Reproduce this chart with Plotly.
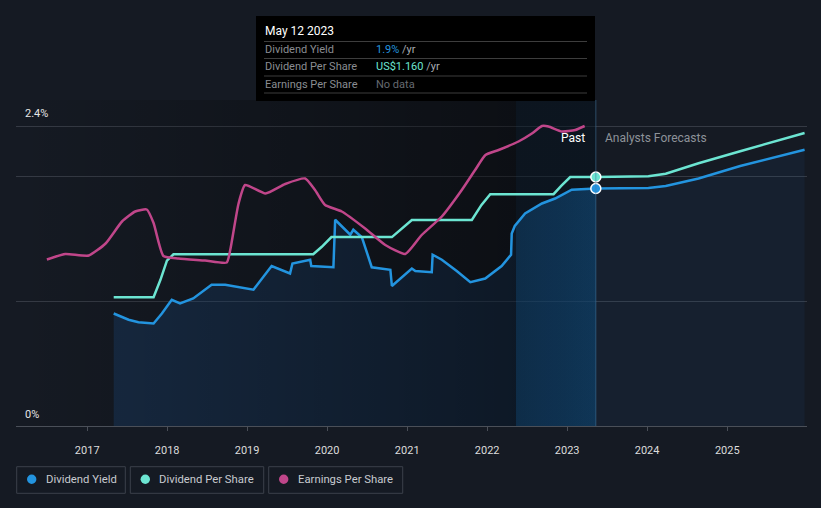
import plotly.graph_objects as go
import pandas as pd

# ---------------- data ----------------
yield_dates = ['2017-05-02', '2017-07-09', '2017-08-23', '2017-10-31', '2017-12-08', '2018-01-22',
               '2018-03-01', '2018-04-30', '2018-07-23', '2018-09-23', '2019-01-30', '2019-04-23',
               '2019-07-16', '2019-07-27', '2019-10-16', '2019-10-21', '2020-01-30', '2020-02-07',
               '2020-04-16', '2020-04-30', '2020-06-08', '2020-07-23', '2020-10-16', '2020-10-23',
               '2021-01-22', '2021-02-07', '2021-04-23', '2021-04-27', '2021-06-08', '2021-08-15',
               '2021-10-16', '2021-12-23', '2022-03-08', '2022-04-20', '2022-04-23', '2022-05-07',
               '2022-06-23', '2022-09-08', '2022-11-07', '2023-01-22', '2023-05-12']
yield_vals = [0.90, 0.85, 0.83, 0.82, 0.90, 1.01,
              0.98, 1.02, 1.13, 1.13, 1.09, 1.28,
              1.22, 1.30, 1.33, 1.28, 1.27, 1.65,
              1.53, 1.57, 1.51, 1.27, 1.25, 1.12,
              1.26, 1.24, 1.23, 1.37, 1.33, 1.24,
              1.15, 1.18, 1.28, 1.37, 1.54, 1.60,
              1.70, 1.78, 1.82, 1.89, 1.90]
yield_fc_dates = ['2023-05-12', '2023-10-01', '2024-01-07', '2024-03-26', '2024-08-23', '2025-03-01', '2025-12-20']
yield_fc_vals = [1.90, 1.90, 1.905, 1.92, 1.98, 2.08, 2.21]

dps_dates = ['2017-05-02', '2017-10-31', '2017-12-01', '2017-12-31', '2018-01-30', '2019-10-30',
             '2019-12-08', '2020-01-21', '2020-10-23', '2020-12-05', '2021-01-22', '2021-10-23',
             '2021-12-06', '2022-01-15', '2022-10-31', '2022-12-06', '2023-01-15', '2023-05-12']
dps_vals = [0.60, 0.60, 0.68, 0.77, 0.80, 0.80,
            0.835, 0.88, 0.88, 0.92, 0.96, 0.96,
            1.03, 1.08, 1.08, 1.12, 1.16, 1.16]
dps_fc_dates = ['2023-10-01', '2024-01-07', '2024-03-26', '2024-08-23', '2025-03-01', '2025-12-20']
dps_fc_vals = [1.16, 1.163, 1.175, 1.224, 1.28, 1.365]

eps_dates = ['2016-07-01', '2016-09-23', '2017-01-08', '2017-03-26', '2017-06-09', '2017-08-08',
             '2017-09-30', '2017-10-31', '2017-12-15', '2018-02-22', '2018-06-23', '2018-09-30',
             '2018-10-16', '2018-11-23', '2018-12-23', '2019-03-26', '2019-06-24', '2019-09-23',
             '2019-11-07', '2019-12-23', '2020-03-08', '2020-06-23', '2020-09-23', '2020-12-23',
             '2021-03-08', '2021-06-08', '2021-09-07', '2021-11-07', '2021-12-24', '2022-02-22',
             '2022-05-24', '2022-07-24', '2022-09-08', '2022-10-08', '2022-12-08', '2023-02-07',
             '2023-03-22']
eps_vals = [3.33, 3.44, 3.41, 3.65, 4.09, 4.29,
            4.33, 4.06, 3.40, 3.35, 3.31, 3.27,
            3.52, 4.45, 4.82, 4.65, 4.84, 4.95,
            4.72, 4.42, 4.29, 3.95, 3.62, 3.44,
            3.82, 4.19, 4.72, 5.12, 5.42, 5.52,
            5.69, 5.85, 6.00, 5.99, 5.89, 5.92,
            6.00]

tick_years = ['2017', '2018', '2019', '2020', '2021', '2022', '2023', '2024', '2025']
now_date = '2023-05-12'
past_year_start = '2022-05-12'
x_range = ['2016-02-11', '2025-12-31']

# ---------------- style ----------------
BG = '#151a23'
BLUE = '#2394df'
TEAL = '#6ce5d2'
PINK = '#c0468a'
FONT = 'Roboto'

W, H = 821, 508
ML, MR, MT, MB = 16, 14, 100, 82
PW = W - ML - MR
PH = H - MT - MB

def px(x):
    return (x - ML) / PW

def py(y):
    return (H - MB - y) / PH

def frac(a, b, c):
    a, b, c = pd.Timestamp(a), pd.Timestamp(b), pd.Timestamp(c)
    return (b - a) / (c - a)

Y_TOP = 2.608          # yield axis top (%)
DPS_TOP = 1.5187       # DPS axis top (US$)
EPS_TOP = 6.52         # EPS axis top

fig = go.Figure()

# yield fill (past)
fig.add_trace(go.Scatter(x=yield_dates, y=yield_vals, mode='lines', line=dict(width=0),
                         fill='tozeroy', fillcolor='rgba(33,110,190,0.20)', hoverinfo='skip',
                         showlegend=False))
# darkening gradient over past region (constant through the last year)
f_dark = frac(x_range[0], past_year_start, now_date)
fig.add_trace(go.Scatter(x=[x_range[0], now_date], y=[Y_TOP, Y_TOP], mode='lines',
                         line=dict(width=0), fill='tozeroy',
                         fillgradient=dict(type='horizontal',
                                           colorscale=[[0, 'rgba(0,0,0,0)'], [f_dark, 'rgba(0,0,0,0.42)'],
                                                       [1, 'rgba(0,0,0,0.42)']]),
                         hoverinfo='skip', showlegend=False))
# brighter fill under yield within the last year
f_hl = frac(yield_dates[0], past_year_start, now_date)
fig.add_trace(go.Scatter(x=yield_dates, y=yield_vals, mode='lines', line=dict(width=0),
                         fill='tozeroy',
                         fillgradient=dict(type='horizontal',
                                           colorscale=[[0, 'rgba(20,120,200,0)'], [f_hl, 'rgba(20,120,200,0)'],
                                                       [min(f_hl + 0.0005, 1), 'rgba(20,120,200,0.16)'],
                                                       [1, 'rgba(25,130,210,0.24)']]),
                         hoverinfo='skip', showlegend=False))
# faint tint over the whole last-year band
fig.add_trace(go.Scatter(x=[past_year_start, now_date], y=[Y_TOP, Y_TOP], mode='lines',
                         line=dict(width=0), fill='tozeroy', fillcolor='rgba(20,110,190,0.07)',
                         hoverinfo='skip', showlegend=False))
# forecast fill
fig.add_trace(go.Scatter(x=yield_fc_dates, y=yield_fc_vals, mode='lines', line=dict(width=0),
                         fill='tozeroy', fillcolor='rgba(33,110,190,0.08)', hoverinfo='skip',
                         showlegend=False))
# yield line
fig.add_trace(go.Scatter(x=yield_dates + yield_fc_dates[1:], y=yield_vals + yield_fc_vals[1:],
                         mode='lines', line=dict(color=BLUE, width=2.5), name='Dividend Yield',
                         showlegend=False))
fig.add_trace(go.Scatter(x=[now_date], y=[yield_vals[-1]], mode='markers',
                         marker=dict(size=10, color=BLUE, line=dict(color='white', width=1.5)),
                         showlegend=False, hoverinfo='skip'))
# DPS
fig.add_trace(go.Scatter(x=dps_dates + dps_fc_dates, y=dps_vals + dps_fc_vals, yaxis='y2',
                         mode='lines', line=dict(color=TEAL, width=2.5), name='Dividend Per Share',
                         showlegend=False))
fig.add_trace(go.Scatter(x=[now_date], y=[dps_vals[-1]], yaxis='y2', mode='markers',
                         marker=dict(size=10, color=TEAL, line=dict(color='white', width=1.5)),
                         showlegend=False, hoverinfo='skip'))
# EPS
fig.add_trace(go.Scatter(x=eps_dates, y=eps_vals, yaxis='y3', mode='lines',
                         line=dict(color=PINK, width=2.5, shape='spline', smoothing=0.5),
                         name='Earnings Per Share', showlegend=False))

shapes = []
annotations = []

# divider line at "now"
shapes.append(dict(type='line', xref='x', yref='paper', x0=now_date, x1=now_date, y0=0, y1=1,
                   line=dict(color='rgba(70,120,160,0.55)', width=1)))

# tooltip box
shapes.append(dict(type='rect', xref='paper', yref='paper', x0=px(256), x1=px(595), y0=py(101), y1=py(16),
                   fillcolor='#000000', line=dict(width=0)))
for yy in [41.5, 58.5, 76, 93]:
    shapes.append(dict(type='line', xref='paper', yref='paper', x0=px(264), x1=px(587), y0=py(yy), y1=py(yy),
                       line=dict(color='#3d3d3d', width=1)))
annotations.append(dict(xref='paper', yref='paper', x=px(263), y=py(31), text='May 12 2023', showarrow=False,
                        xanchor='left', yanchor='middle', font=dict(color='#ffffff', size=12, family=FONT)))
rows = [('Dividend Yield', "<span style='color:%s'>1.9%%</span> /yr" % BLUE, 49.5),
        ('Dividend Per Share', "<span style='color:%s'>US$1.160</span> /yr" % TEAL, 67),
        ('Earnings Per Share', "<span style='color:#666a70'>No data</span>", 84.5)]
for label, val, yy in rows:
    annotations.append(dict(xref='paper', yref='paper', x=px(263), y=py(yy), text=label, showarrow=False,
                            xanchor='left', yanchor='middle', font=dict(color='#8a8d92', size=11, family=FONT)))
    annotations.append(dict(xref='paper', yref='paper', x=px(374), y=py(yy), text=val, showarrow=False,
                            xanchor='left', yanchor='middle', font=dict(color='#a8abb0', size=11, family=FONT)))

# y labels
annotations.append(dict(xref='paper', yref='paper', x=px(23), y=py(114), text='2.4%', showarrow=False,
                        xanchor='left', yanchor='middle', font=dict(color='#e6e6e6', size=11, family=FONT)))
annotations.append(dict(xref='paper', yref='paper', x=px(23), y=py(414), text='0%', showarrow=False,
                        xanchor='left', yanchor='middle', font=dict(color='#e6e6e6', size=11, family=FONT)))

# Past / forecast labels
annotations.append(dict(xref='paper', yref='paper', x=px(587), y=py(138), text='Past', showarrow=False,
                        xanchor='right', yanchor='middle', font=dict(color='#ffffff', size=12, family=FONT)))
annotations.append(dict(xref='paper', yref='paper', x=px(603), y=py(138), text='Analysts Forecasts',
                        showarrow=False, xanchor='left', yanchor='middle',
                        font=dict(color='#8d9299', size=12, family=FONT)))

# custom legend
legend_items = [('Dividend Yield', BLUE, 16.7, 125.3),
                ('Dividend Per Share', TEAL, 130.3, 263.7),
                ('Earnings Per Share', PINK, 268.7, 402.7)]
for name, col, x0, x1 in legend_items:
    shapes.append(dict(type='rect', xref='paper', yref='paper', x0=px(x0), x1=px(x1), y0=py(493.3), y1=py(466.7),
                       line=dict(color='#3b404a', width=1), fillcolor='rgba(0,0,0,0)'))
    shapes.append(dict(type='circle', xref='paper', yref='paper', x0=px(x0 + 10.3), x1=px(x0 + 19.7),
                       y0=py(484), y1=py(474.6), line=dict(width=0), fillcolor=col))
    annotations.append(dict(xref='paper', yref='paper', x=px(x0 + 27), y=py(479.5), text=name, showarrow=False,
                            xanchor='left', yanchor='middle', font=dict(color='#c8cbd0', size=11.3, family=FONT)))

fig.update_layout(
    width=W, height=H,
    margin=dict(l=ML, r=MR, t=MT, b=MB),
    paper_bgcolor=BG, plot_bgcolor=BG,
    font=dict(family=FONT, color='#d6d6d6', size=11),
    showlegend=False,
    hovermode=False,
    xaxis=dict(type='date', range=x_range, tickvals=[y + '-01-01' for y in tick_years], ticktext=tick_years,
               showgrid=False, zeroline=False, showline=True, linecolor='#4a4f58', linewidth=1,
               ticks='outside', ticklen=4, tickcolor='#4a4f58', ticklabelstandoff=10,
               tickfont=dict(size=11, color='#dcdcdc', family=FONT), fixedrange=True),
    yaxis=dict(range=[0, Y_TOP], tickvals=[1, 2, 2.4], showticklabels=False, showgrid=True,
               gridcolor='#353a44', gridwidth=1, zeroline=False, showline=False, fixedrange=True),
    yaxis2=dict(range=[0, DPS_TOP], overlaying='y', visible=False, fixedrange=True),
    yaxis3=dict(range=[0, EPS_TOP], overlaying='y', visible=False, fixedrange=True),
    shapes=shapes,
    annotations=annotations,
)

fig.write_html("out.html")
